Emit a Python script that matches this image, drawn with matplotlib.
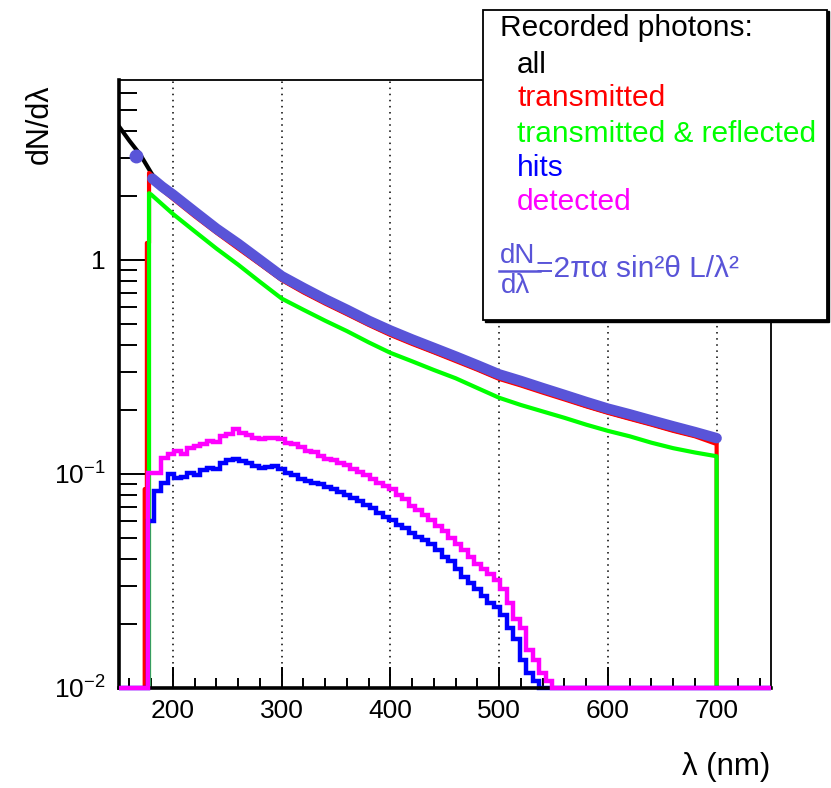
import numpy as np
import matplotlib
matplotlib.use('Agg')
import matplotlib.pyplot as plt
from matplotlib.ticker import FixedLocator, FixedFormatter, MultipleLocator, NullFormatter
from matplotlib.patches import Rectangle
from matplotlib.lines import Line2D

plt.rcParams['font.family'] = ['Liberation Sans', 'DejaVu Sans']
plt.rcParams['mathtext.fontset'] = 'custom'
plt.rcParams['mathtext.rm'] = 'Liberation Sans Narrow'

# wavelength samples (nm) and dN/dlambda
all_lam = [150, 160, 170, 180, 190, 200, 220, 240, 260, 280, 300, 320, 340, 360, 380, 400,
           420, 440, 460, 480, 500, 520, 540, 560, 580, 600, 620, 640, 660, 680, 700]
all_val = [4.23, 3.60, 3.10, 2.55, 2.15, 1.95, 1.62, 1.35, 1.14, 0.96, 0.81, 0.71, 0.63, 0.562, 0.50, 0.449,
           0.408, 0.372, 0.340, 0.309, 0.280, 0.261, 0.242, 0.225, 0.208, 0.194, 0.182, 0.171, 0.160, 0.151, 0.141]

trans_lam = [174, 174, 176, 176, 178, 178, 180, 190, 200, 220, 240, 260, 280, 300, 320, 340, 360, 380, 400,
             420, 440, 460, 480, 500, 520, 540, 560, 580, 600, 620, 640, 660, 680, 700, 700]
trans_val = [0.001, 0.085, 0.085, 1.2, 1.2, 2.55, 2.50, 2.12, 1.93, 1.60, 1.34, 1.13, 0.955, 0.805, 0.705, 0.625, 0.558, 0.497, 0.446,
             0.405, 0.370, 0.337, 0.307, 0.278, 0.259, 0.240, 0.223, 0.207, 0.193, 0.181, 0.170, 0.159, 0.150, 0.138, 0.001]

refl_lam = [178, 178, 180, 190, 200, 220, 240, 260, 280, 300, 320, 340, 360, 380, 400,
            420, 440, 460, 480, 500, 520, 540, 560, 580, 600, 620, 640, 660, 680, 700, 700]
refl_val = [0.001, 2.05, 2.02, 1.82, 1.64, 1.36, 1.13, 0.95, 0.79, 0.66, 0.585, 0.52, 0.465, 0.412, 0.368,
            0.336, 0.306, 0.280, 0.252, 0.227, 0.210, 0.196, 0.183, 0.170, 0.159, 0.150, 0.140, 0.132, 0.126, 0.121, 0.001]

theory_lam = [181, 190, 200, 220, 240, 260, 280, 300, 320, 340, 360, 380, 400,
              420, 440, 460, 480, 500, 520, 540, 560, 580, 600, 620, 640, 660, 680, 700]
theory_val = [2.40, 2.20, 2.02, 1.68, 1.40, 1.19, 1.00, 0.84, 0.74, 0.655, 0.585, 0.520, 0.468,
              0.425, 0.388, 0.354, 0.322, 0.292, 0.272, 0.252, 0.234, 0.217, 0.202, 0.190, 0.178, 0.167, 0.157, 0.147]
theory_dot_lam = [166]
theory_dot_val = [3.06]

# 6 nm bins for hits / detected
bin_edges = np.arange(177, 550, 6)
hits = [0.060, 0.083, 0.091, 0.100, 0.096, 0.097, 0.101, 0.099, 0.104, 0.107, 0.105, 0.113, 0.116, 0.118,
        0.115, 0.112, 0.109, 0.107, 0.108, 0.109, 0.106, 0.101, 0.099, 0.095, 0.093, 0.091, 0.090, 0.087,
        0.085, 0.082, 0.080, 0.077, 0.075, 0.072, 0.069, 0.066, 0.063, 0.061, 0.058, 0.056, 0.053, 0.051,
        0.049, 0.047, 0.044, 0.041, 0.039, 0.036, 0.033, 0.031, 0.029, 0.027, 0.025, 0.024, 0.022, 0.019,
        0.017, 0.0135, 0.0118, 0.0108, 0.0, 0.0]
detected = [0.101, 0.101, 0.119, 0.124, 0.128, 0.124, 0.132, 0.135, 0.138, 0.143, 0.141, 0.150, 0.153, 0.162,
            0.156, 0.152, 0.148, 0.146, 0.147, 0.148, 0.146, 0.140, 0.138, 0.133, 0.128, 0.126, 0.121, 0.118,
            0.116, 0.113, 0.110, 0.106, 0.102, 0.099, 0.095, 0.091, 0.088, 0.085, 0.080, 0.076, 0.071, 0.068,
            0.064, 0.061, 0.057, 0.054, 0.050, 0.047, 0.044, 0.041, 0.038, 0.036, 0.034, 0.032, 0.029, 0.025,
            0.021, 0.019, 0.015, 0.0135, 0.0118, 0.0108]

x_range = (150, 750)
y_range = (0.01, 6.93)
slate = '#5954d8'
narrow = ['Liberation Sans Narrow', 'Liberation Sans', 'DejaVu Sans']

fig = plt.figure(figsize=(8.31, 7.88), dpi=100)
ax = fig.add_axes([118.6 / 831, 100 / 788, 652.4 / 831, 608 / 788])
ax.set_yscale('log')
ax.set_xlim(*x_range)
ax.set_ylim(*y_range)

ax.plot(all_lam, all_val, color='black', lw=3, zorder=2.0)
ax.plot(trans_lam, trans_val, color='red', lw=3, zorder=2.1)
ax.plot(refl_lam, refl_val, color='#00ff00', lw=3, zorder=2.2)

# hits / detected histograms, empty bins sit on the bottom edge
edges = np.concatenate([[x_range[0]], bin_edges, [x_range[1]]])
h = np.clip(np.concatenate([[0], hits, [0]]), y_range[0], None)
d = np.clip(np.concatenate([[0], detected, [0]]), y_range[0], None)
ax.stairs(h, edges, baseline=None, color='#0000ff', lw=3.2, zorder=2.3, clip_on=False)
ax.stairs(d, edges, baseline=None, color='#ff00ff', lw=3.2, zorder=2.6, clip_on=False)

ax.plot(theory_lam, theory_val, color=slate, lw=7.5, solid_capstyle='round', zorder=2.5)
ax.plot(theory_dot_lam, theory_dot_val, 'o', color=slate, ms=9, zorder=2.5)

# grid and axes
for gx in [200, 300, 400, 500, 600, 700]:
    ax.axvline(gx, color='black', lw=1.1, ls=(0, (1, 3)), zorder=1)

ax.xaxis.set_minor_locator(MultipleLocator(20))
ax.set_xticks([200, 300, 400, 500, 600, 700])
ax.set_xticklabels(['200', '300', '400', '500', '600', '700'], family=narrow)
ax.yaxis.set_major_locator(FixedLocator([0.01, 0.1, 1]))
ax.yaxis.set_major_formatter(FixedFormatter([r'$\mathregular{10^{-2}}$', r'$\mathregular{10^{-1}}$', '1']))
ax.yaxis.set_minor_formatter(NullFormatter())
for lab in ax.get_yticklabels():
    lab.set_family(narrow)
ax.tick_params(axis='x', which='major', direction='in', length=15, width=1.4, pad=8, labelsize=19, top=False)
ax.tick_params(axis='x', which='minor', direction='in', length=7, width=1.4, top=False)
ax.tick_params(axis='y', which='major', direction='in', length=23, width=1.4, pad=9, labelsize=19, right=False)
ax.tick_params(axis='y', which='minor', direction='in', length=13, width=1.4, right=False)
ax.spines['left'].set_linewidth(2.6)
ax.spines['bottom'].set_linewidth(2.6)
ax.spines['top'].set_linewidth(1.3)
ax.spines['right'].set_linewidth(1.3)

fig.text(770 / 831, 1 - 767 / 788, 'λ (nm)', fontsize=22.5, family=narrow, ha='right', va='center')
fig.text(40 / 831, 1 - 85 / 788, 'dN/dλ', fontsize=22, family=narrow, rotation=90, ha='center', va='top')

# legend box with shadow
fig.patches.append(Rectangle((485 / 831, 1 - 322 / 788), 344 / 831, 311 / 788,
                             transform=fig.transFigure, facecolor='black', edgecolor='black', zorder=5))
fig.patches.append(Rectangle((483 / 831, 1 - 320 / 788), 344 / 831, 310 / 788,
                             transform=fig.transFigure, facecolor='white', edgecolor='black', lw=1.3, zorder=6))

legend_rows = [('Recorded photons:', 'black', 500, 28),
               ('all', 'black', 517, 65),
               ('transmitted', 'red', 517, 98),
               ('transmitted & reflected', '#00ff00', 517, 134),
               ('hits', '#0000ff', 517, 168),
               ('detected', '#ff00ff', 517, 202)]
for txt, col, lx, ly in legend_rows:
    fig.text(lx / 831, 1 - ly / 788, txt, color=col, fontsize=21.5, ha='left', va='center', zorder=7)

fig.text(518 / 831, 1 - 256 / 788, 'dN', color=slate, fontsize=20, family=narrow, ha='center', va='center', zorder=7)
fig.text(516 / 831, 1 - 286 / 788, 'dλ', color=slate, fontsize=20, family=narrow, ha='center', va='center', zorder=7)
fig.lines.append(Line2D([499 / 831, 540 / 831], [1 - 271 / 788, 1 - 271 / 788], color=slate, lw=1.8,
                        transform=fig.transFigure, zorder=7))
fig.text(536 / 831, 1 - 269 / 788, '=2πα sin²θ L/λ²', color=slate, fontsize=21.5, family=narrow,
         ha='left', va='center', zorder=7)

fig.savefig('out.png', dpi=100)
